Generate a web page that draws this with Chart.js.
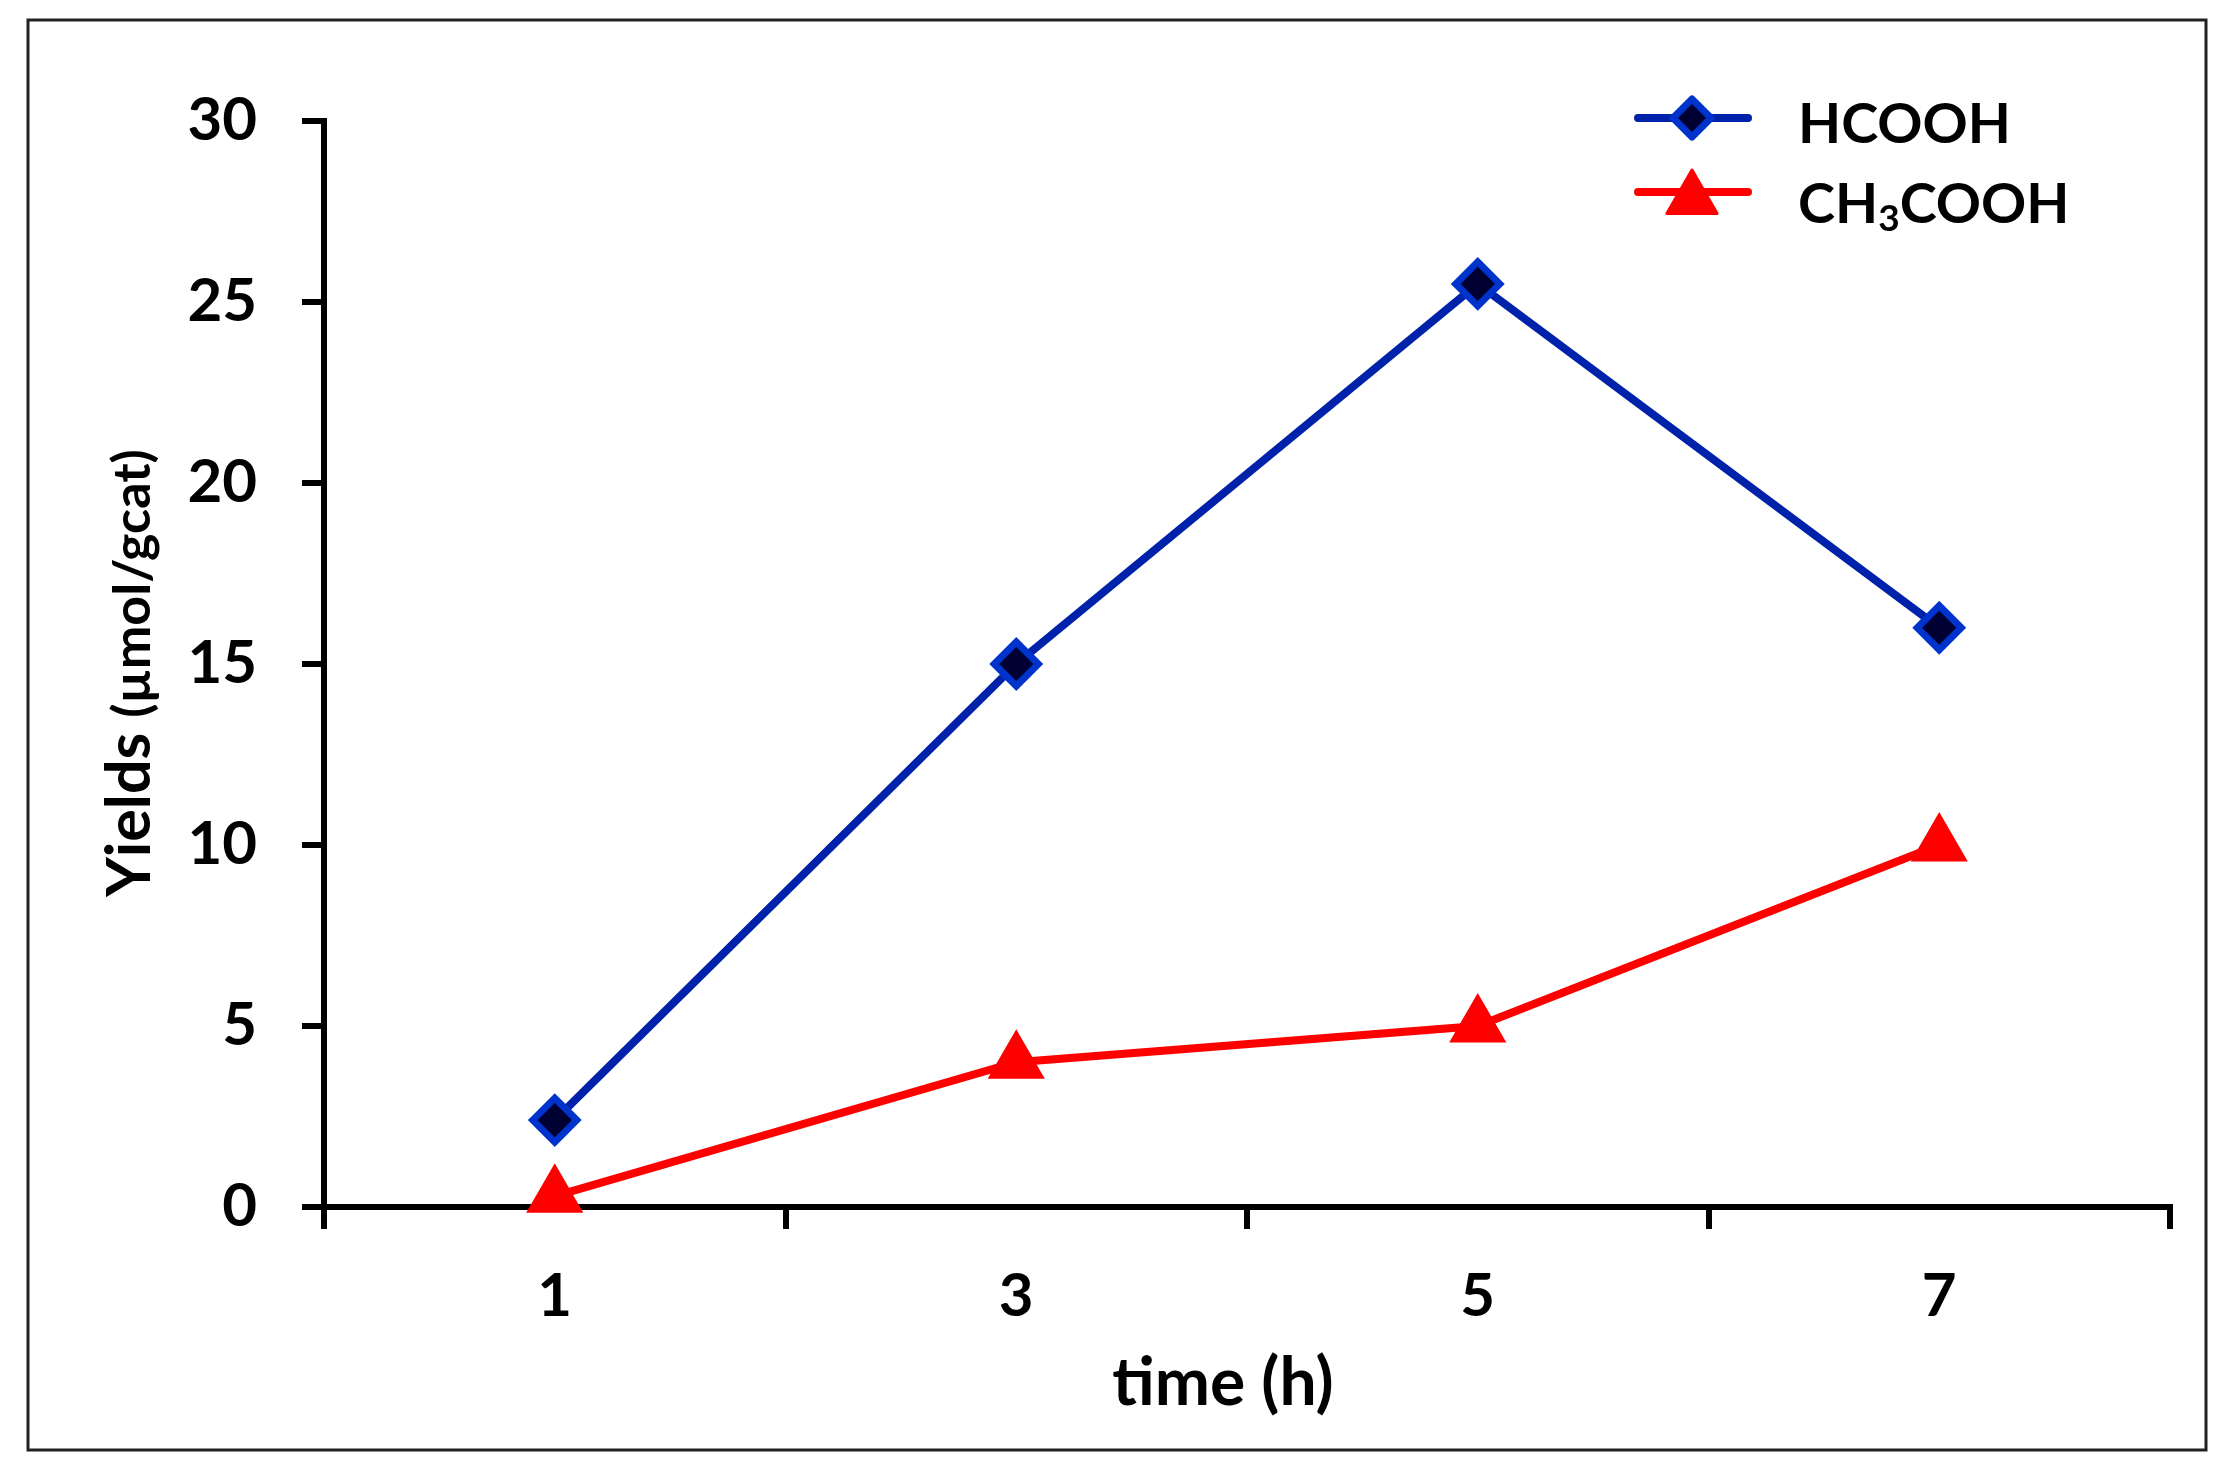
<!DOCTYPE html>
<html>
<head>
<meta charset="utf-8">
<script src="https://cdn.jsdelivr.net/npm/chart.js@4.4.1/dist/chart.umd.min.js"></script>
<style>
  html, body { margin: 0; padding: 0; background: #fff; }
  canvas { display: block; }
</style>
</head>
<body>
<canvas id="chart" width="2234" height="1470"></canvas>
<script>
// time points (h) and yields (umol/gcat)
const timeLabels = ['1', '3', '5', '7'];
const hcooh = [2.4, 15, 25.5, 16];
const ch3cooh = [0.3, 4, 5, 10];
const yTicks = [0, 5, 10, 15, 20, 25, 30];

const blueLine = '#0022aa';
const blueEdge = '#0033cc';
const blueFill = '#000033';
const red = '#ff0000';
const fontFamily = 'Lato, "Open Sans", sans-serif';

// outer frame round the whole figure
const framePlugin = {
  id: 'frame',
  beforeDraw(chart) {
    const ctx = chart.ctx;
    ctx.save();
    ctx.fillStyle = '#fff';
    ctx.fillRect(0, 0, chart.width, chart.height);
    ctx.strokeStyle = '#222';
    ctx.lineWidth = 3;
    ctx.strokeRect(28, 20, 2178, 1430);
    ctx.restore();
  }
};

// axis titles: y has a smaller unit part, x sits a little left of centre
const titlesPlugin = {
  id: 'axisTitles',
  afterDraw(chart) {
    const ctx = chart.ctx;
    const area = chart.chartArea;
    const big = 'bold 61px ' + fontFamily;
    const small = 'bold 52px ' + fontFamily;
    const part1 = 'Yields ';
    const part2 = '(\u00b5mol/gcat)';
    ctx.save();
    ctx.fillStyle = '#000';
    ctx.textBaseline = 'alphabetic';
    ctx.font = big;
    const w1 = ctx.measureText(part1).width;
    ctx.font = small;
    const w2 = ctx.measureText(part2).width;
    const mid = (area.top + area.bottom) / 2 + 9;
    ctx.save();
    ctx.translate(150, mid + (w1 + w2) / 2);
    ctx.rotate(-Math.PI / 2);
    ctx.textAlign = 'left';
    ctx.font = big;
    ctx.fillText(part1, 0, 0);
    ctx.font = small;
    ctx.fillText(part2, w1, 0);
    ctx.restore();

    ctx.font = 'bold 66px ' + fontFamily;
    ctx.textAlign = 'center';
    ctx.fillText('time (h)', (area.left + area.right) / 2 - 24, 1405);
    ctx.restore();
  }
};

function drawDiamond(ctx, x, y, r) {
  ctx.beginPath();
  ctx.moveTo(x - r, y);
  ctx.lineTo(x, y - r);
  ctx.lineTo(x + r, y);
  ctx.lineTo(x, y + r);
  ctx.closePath();
  ctx.fillStyle = blueFill;
  ctx.fill();
  ctx.lineWidth = 7;
  ctx.lineJoin = 'round';
  ctx.strokeStyle = blueEdge;
  ctx.stroke();
}

function drawTriangle(ctx, x, y, r) {
  const s = Math.sin(Math.PI / 3) * r;
  ctx.beginPath();
  ctx.moveTo(x, y - r);
  ctx.lineTo(x + s, y + r / 2);
  ctx.lineTo(x - s, y + r / 2);
  ctx.closePath();
  ctx.fillStyle = red;
  ctx.fill();
  ctx.lineWidth = 3;
  ctx.lineJoin = 'round';
  ctx.strokeStyle = red;
  ctx.stroke();
}

// legend in the top right corner of the plot
const legendPlugin = {
  id: 'cornerLegend',
  afterDraw(chart) {
    const ctx = chart.ctx;
    ctx.save();
    ctx.lineCap = 'round';
    // HCOOH row
    ctx.strokeStyle = blueLine;
    ctx.lineWidth = 8;
    ctx.beginPath();
    ctx.moveTo(1638, 118);
    ctx.lineTo(1748, 118);
    ctx.stroke();
    drawDiamond(ctx, 1692, 118, 19);
    // CH3COOH row
    ctx.strokeStyle = red;
    ctx.lineWidth = 8;
    ctx.beginPath();
    ctx.moveTo(1638, 192);
    ctx.lineTo(1748, 192);
    ctx.stroke();
    drawTriangle(ctx, 1692, 199, 29);

    ctx.fillStyle = '#000';
    ctx.textBaseline = 'alphabetic';
    ctx.textAlign = 'left';
    const big = 'bold 56px ' + fontFamily;
    const sub = 'bold 37px ' + fontFamily;
    ctx.font = big;
    ctx.fillText('HCOOH', 1798, 143);
    let x = 1798;
    ctx.fillText('CH', x, 223);
    x += ctx.measureText('CH').width;
    ctx.font = sub;
    ctx.fillText('3', x, 231);
    x += ctx.measureText('3').width;
    ctx.font = big;
    ctx.fillText('COOH', x, 223);
    ctx.restore();
  }
};

Chart.defaults.color = '#000';
Chart.defaults.font.family = fontFamily;

new Chart(document.getElementById('chart'), {
  type: 'line',
  data: {
    labels: timeLabels,
    datasets: [
      {
        label: 'HCOOH',
        data: hcooh,
        borderColor: blueLine,
        borderWidth: 8,
        pointStyle: 'rectRot',
        pointRadius: 22,
        pointHoverRadius: 22,
        pointBorderWidth: 7,
        pointBorderColor: blueEdge,
        pointBackgroundColor: blueFill,
        tension: 0,
        clip: false
      },
      {
        label: 'CH3COOH',
        data: ch3cooh,
        borderColor: red,
        borderWidth: 8,
        pointStyle: 'triangle',
        pointRadius: 30,
        pointHoverRadius: 30,
        pointBorderWidth: 3,
        pointBorderColor: red,
        pointBackgroundColor: red,
        tension: 0,
        clip: false
      }
    ]
  },
  options: {
    responsive: false,
    animation: false,
    devicePixelRatio: 1,
    layout: { padding: { left: 0, right: 64, top: 121, bottom: 0 } },
    plugins: {
      legend: { display: false },
      tooltip: { enabled: false }
    },
    scales: {
      x: {
        type: 'category',
        offset: true,
        afterFit(scale) { scale.height = 263; },
        grid: {
          offset: true,
          drawOnChartArea: false,
          drawTicks: true,
          tickLength: 22,
          lineWidth: 6,
          tickWidth: 6,
          color: '#000',
          tickColor: '#000'
        },
        border: { display: true, color: '#000', width: 6 },
        ticks: {
          font: { size: 60, weight: 'bold' },
          padding: 32,
          maxRotation: 0
        },
        title: { display: false }
      },
      y: {
        min: 0,
        max: 30,
        afterFit(scale) { scale.width = 324; },
        afterBuildTicks(scale) { scale.ticks = yTicks.map(v => ({ value: v })); },
        grid: {
          drawOnChartArea: false,
          drawTicks: true,
          tickLength: 22,
          lineWidth: 6,
          tickWidth: 6,
          color: '#000',
          tickColor: '#000'
        },
        border: { display: true, color: '#000', width: 6 },
        ticks: {
          font: { size: 60, weight: 'bold' },
          padding: 45
        }
      }
    }
  },
  plugins: [framePlugin, titlesPlugin, legendPlugin]
});
</script>
</body>
</html>
